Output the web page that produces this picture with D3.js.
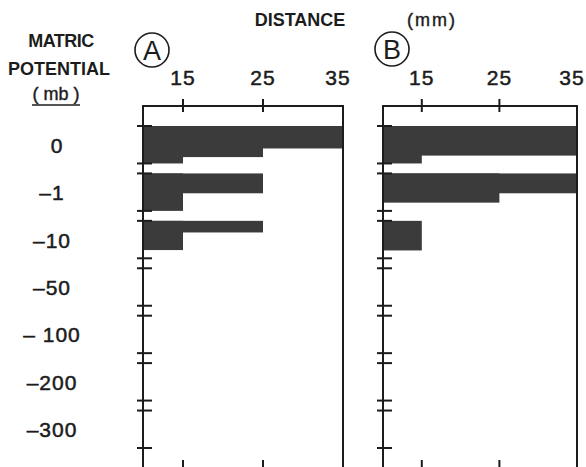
<!DOCTYPE html>
<html>
<head>
<meta charset="utf-8">
<script src="https://cdn.jsdelivr.net/npm/d3@7"></script>
<style>
  body { margin: 0; background: #fff; }
  text { font-family: "Liberation Sans", Arial, sans-serif; fill: #1c1c1c; }
</style>
</head>
<body>
<div id="chart"></div>
<script>
// matric potential rows (mb)
const potentials = ["0", "-1", "-10", "-50", "-100", "-200", "-300"];
const potentialLabels = ["0", "\u20131", "\u201310", "\u201350", "\u2013 100", "\u2013200", "\u2013300"];
const distanceTicks = [15, 25, 35];
// per row: [distance reached (mm), share of the row height], stacked from the top
const panelA = [
  [[35, 0.6], [25, 0.23], [15, 0.17]],
  [[25, 0.53], [15, 0.47]],
  [[25, 0.31], [15, 0.47]],
  [], [], [], []
];
const panelB = [
  [[35, 0.79], [15, 0.21]],
  [[35, 0.53], [25, 0.25]],
  [[15, 0.79]],
  [], [], [], []
];

const width = 586, height = 467;
const ink = "#1c1c1c", barColor = "#3b3b3b";
const frameTop = 106, frameBottom = 469;

const svg = d3.select("#chart").append("svg")
  .attr("width", width)
  .attr("height", height);

const y = d3.scaleBand()
  .domain(potentials)
  .range([126, 448])
  .paddingInner(0.21)
  .paddingOuter(0);

const panels = [
  { name: "A", data: panelA, x: d3.scaleLinear().domain([10, 35]).range([143, 343]), cy: 50 },
  { name: "B", data: panelB, x: d3.scaleLinear().domain([10, 35]).range([383, 577]), cy: 49 }
];

panels.forEach(p => {
  const g = svg.append("g");
  const x = p.x;
  const x0 = x.range()[0], x1 = x.range()[1];

  // bars: each step runs from the row top down to the end of its share
  p.data.forEach((row, i) => {
    let cum = 0;
    row.forEach(([dist, share]) => {
      cum += share;
      g.append("rect")
        .attr("x", x(10))
        .attr("y", y(potentials[i]))
        .attr("width", x(dist) - x(10))
        .attr("height", cum * y.bandwidth())
        .attr("fill", barColor);
    });
  });

  // frame
  g.append("path")
    .attr("d", `M${x0},${frameBottom}V${frameTop}H${x1}V${frameBottom}`)
    .attr("fill", "none")
    .attr("stroke", ink)
    .attr("stroke-width", 2);

  // top and bottom ticks
  g.selectAll(".tt")
    .data(distanceTicks.filter(d => d < 35))
    .enter().append("line")
    .attr("x1", d => x(d)).attr("x2", d => x(d))
    .attr("y1", frameTop - 7).attr("y2", frameTop + 6)
    .attr("stroke", ink).attr("stroke-width", 2);
  g.selectAll(".bt")
    .data(distanceTicks.filter(d => d < 35))
    .enter().append("line")
    .attr("x1", d => x(d)).attr("x2", d => x(d))
    .attr("y1", height - 7).attr("y2", height)
    .attr("stroke", ink).attr("stroke-width", 2);

  // top labels
  g.selectAll(".tl")
    .data(distanceTicks)
    .enter().append("text")
    .attr("x", d => x(d) - (d === 35 ? 5 : 0))
    .attr("y", 85)
    .attr("text-anchor", "middle")
    .attr("font-size", 21)
    .attr("letter-spacing", 1)
    .attr("stroke", ink).attr("stroke-width", 0.5)
    .text(d => d);

  // band ticks on the left axis
  potentials.forEach(k => {
    [y(k), y(k) + y.bandwidth()].forEach(v => {
      g.append("line")
        .attr("x1", x0 - 6).attr("x2", x0 + 9)
        .attr("y1", v).attr("y2", v)
        .attr("stroke", ink).attr("stroke-width", 2);
    });
  });

  // circled panel letter
  const cx = x0 + 9;
  g.append("circle")
    .attr("cx", cx).attr("cy", p.cy).attr("r", 17)
    .attr("fill", "none").attr("stroke", ink).attr("stroke-width", 1.6);
  g.append("text")
    .attr("x", cx).attr("y", p.cy + 10)
    .attr("text-anchor", "middle")
    .attr("font-size", 27)
    .text(p.name);
});

// y labels
svg.selectAll(".yl")
  .data(potentials)
  .enter().append("text")
  .attr("x", (d, i) => i === 0 ? 57 : 52)
  .attr("y", d => y(d) + y.bandwidth() / 2 + 8)
  .attr("text-anchor", "middle")
  .attr("font-size", 21)
  .attr("letter-spacing", 1)
  .attr("stroke", ink).attr("stroke-width", 0.5)
  .text((d, i) => potentialLabels[i]);

// titles
const title = (t, xPos, yPos, opts = {}) => svg.append("text")
  .attr("x", xPos).attr("y", yPos)
  .attr("text-anchor", opts.anchor || "middle")
  .attr("font-size", opts.size || 18)
  .attr("font-weight", opts.weight || "bold")
  .attr("letter-spacing", opts.ls || 0)
  .text(t);

title("MATRIC", 61, 47, { ls: -0.5 });
title("POTENTIAL", 59, 75);
title("( mb )", 56, 100, { weight: "normal" }).attr("stroke", ink).attr("stroke-width", 0.4);
svg.append("line")
  .attr("x1", 32).attr("x2", 80)
  .attr("y1", 105).attr("y2", 105)
  .attr("stroke", ink).attr("stroke-width", 1.5);
title("DISTANCE", 300, 26);
title("(mm)", 432, 26, { weight: "normal", ls: 2 }).attr("stroke", ink).attr("stroke-width", 0.4);
</script>
</body>
</html>
